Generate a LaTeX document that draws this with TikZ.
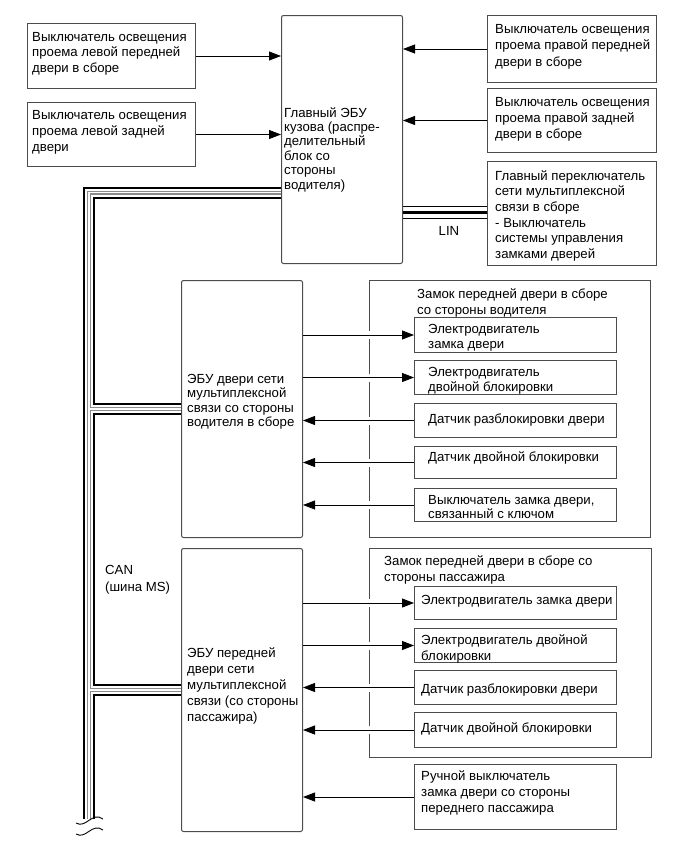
\documentclass[tikz,border=0pt]{standalone}
\usepackage{fontspec}
\setmainfont{Liberation Sans}
\usetikzlibrary{arrows.meta,backgrounds}

\begin{document}
\begin{tikzpicture}[x=1pt, y=-1pt,
    box/.style={draw=black!70, line width=1pt, anchor=north west, inner sep=0},
    ecubox/.style={box, rounded corners=2pt},
    txt/.style={anchor=north west, inner sep=0, align=left, font=\fontsize{13.2}{16}\selectfont},
    arrow/.style={-{Triangle[length=12pt, width=9pt]}, line width=0.8pt},
    gaparrow/.style={arrow, preaction={draw=white, line width=8pt, -, shorten <=12pt, shorten >=14pt}}
]
    \useasboundingbox (0,0) rectangle (687,857);

    % upper part
    \node[box, minimum width=168, minimum height=65] (swLF) at (27,23) {};
    \node[box, minimum width=168, minimum height=64] (swLR) at (27,102) {};
    \node[ecubox, minimum width=121, minimum height=248] (bcm) at (281,15) {};
    \node[box, minimum width=169, minimum height=67] (swRF) at (487,15) {};
    \node[box, minimum width=169, minimum height=64] (swRR) at (487,88) {};
    \node[box, minimum width=169, minimum height=104] (mainsw) at (487,161) {};

    \node[txt, font=\fontsize{13.2}{15.5}\selectfont] at (32,32) {Выключатель освещения\\проема левой передней\\двери в сборе};
    \node[txt] at (32,110) {Выключатель освещения\\проема левой задней\\двери};
    \node[txt, font=\fontsize{13.2}{14.4}\selectfont] at (284,107) {Главный ЭБУ\\кузова (распре-\\делительный\\блок со\\стороны\\водителя)};
    \node[txt, font=\fontsize{13.2}{16.7}\selectfont] at (495,24) {Выключатель освещения\\проема правой передней\\двери в сборе};
    \node[txt] at (495,97) {Выключатель освещения\\проема правой задней\\двери в сборе};
    \node[txt, font=\fontsize{13.2}{15.7}\selectfont] at (495,170) {Главный переключатель\\сети мультиплексной\\связи в сборе\\- Выключатель\\системы управления\\замками дверей};

    \draw[arrow] (swLF.east) -- (bcm.west |- swLF.east);
    \draw[arrow] (swLR.east) -- (bcm.west |- swLR.east);
    \draw[arrow] (swRF.west) -- (bcm.east |- swRF.west);
    \draw[arrow] (swRR.west) -- (bcm.east |- swRR.west);

    % driver door
    \node[ecubox, minimum width=121, minimum height=257] (drvecu) at (181,280) {};
    \node[box, minimum width=281, minimum height=257] (drvlock) at (369,280) {};
    \node[box, minimum width=202, minimum height=35] (dl1) at (414,317) {};
    \node[box, minimum width=202, minimum height=34] (dl2) at (414,360) {};
    \node[box, minimum width=202, minimum height=34] (dl3) at (414,403) {};
    \node[box, minimum width=202, minimum height=32] (dl4) at (414,446) {};
    \node[box, minimum width=202, minimum height=33] (dl5) at (414,488) {};

    \node[txt, font=\fontsize{13.2}{14.3}\selectfont] at (187,374) {ЭБУ двери сети\\мультиплексной\\связи со стороны\\водителя в сборе};
    \node[txt] at (417,288) {Замок передней двери в сборе\\со стороны водителя};
    \node[txt, font=\fontsize{13.2}{15}\selectfont] at (428,324) {Электродвигатель\\замка двери};
    \node[txt, font=\fontsize{13.2}{15}\selectfont] at (428,367) {Электродвигатель\\двойной блокировки};
    \node[txt] at (428,414) {Датчик разблокировки двери};
    \node[txt] at (428,451) {Датчик двойной блокировки};
    \node[txt, font=\fontsize{13.2}{14}\selectfont] at (428,495) {Выключатель замка двери,\\связанный с ключом};

    \draw[gaparrow] (drvecu.east |- dl1) -- (dl1.west);
    \draw[gaparrow] (drvecu.east |- dl2) -- (dl2.west);
    \draw[gaparrow] (dl3.west) -- (drvecu.east |- dl3);
    \draw[gaparrow] (dl4.west) -- (drvecu.east |- dl4);
    \draw[gaparrow] (dl5.west) -- (drvecu.east |- dl5);

    % passenger door
    \node[ecubox, minimum width=121, minimum height=283] (psecu) at (181,548) {};
    \node[box, minimum width=282, minimum height=209] (pslock) at (369,548) {};
    \node[box, minimum width=202, minimum height=33] (pl1) at (414,586) {};
    \node[box, minimum width=202, minimum height=34] (pl2) at (414,628) {};
    \node[box, minimum width=202, minimum height=34] (pl3) at (414,670) {};
    \node[box, minimum width=202, minimum height=35] (pl4) at (414,712) {};
    \node[box, minimum width=202, minimum height=65] (psman) at (414,764) {};

    \node[txt, font=\fontsize{13.2}{16.2}\selectfont] at (187,647) {ЭБУ передней\\двери сети\\мультиплексной\\связи (со стороны\\пассажира)};
    \node[txt] at (384,555) {Замок передней двери в сборе со\\стороны пассажира};
    \node[txt] at (421,595) {Электродвигатель замка двери};
    \node[txt] at (421,634) {Электродвигатель двойной\\блокировки};
    \node[txt] at (421,684) {Датчик разблокировки двери};
    \node[txt] at (421,722) {Датчик двойной блокировки};
    \node[txt] at (421,770) {Ручной выключатель\\замка двери со стороны\\переднего пассажира};

    \draw[gaparrow] (psecu.east |- pl1) -- (pl1.west);
    \draw[gaparrow] (psecu.east |- pl2) -- (pl2.west);
    \draw[gaparrow] (pl3.west) -- (psecu.east |- pl3);
    \draw[gaparrow] (pl4.west) -- (psecu.east |- pl4);
    \draw[arrow] (psman.west) -- (psecu.east |- psman);

    % buses
    \coordinate (canTop) at (89,192.5);
    \coordinate (canEnd) at (89,819);
    \coordinate (lin) at (444,212.5);
    \node[txt, font=\fontsize{13.2}{17}\selectfont] (canlbl) at (105,565) {CAN\\(шина MS)};
    \node[font=\fontsize{13.2}{14}\selectfont, inner sep=0] (linlbl) at (449,231) {LIN};

    \begin{scope}[on background layer]
        \foreach \w/\c in {12/black, 8/white, 4/black!45, 1.5/white} {
            \draw[line width=\w pt, \c] (bcm.west |- canTop) -- (canTop) -- (canEnd);
            \draw[line width=\w pt, \c] (drvecu.west) -- (drvecu.west -| canTop);
            \draw[line width=\w pt, \c] (psecu.west) -- (psecu.west -| canTop);
        }
        \foreach \w/\c in {12.5/black, 10.5/white, 3/black}
            \draw[line width=\w pt, \c] (bcm.east |- lin) -- (mainsw.west |- lin);
    \end{scope}
    \draw[line width=0.9pt] (76,823) .. controls (86,829) and (92,811) .. (103,819);
    \draw[line width=0.9pt] (76,834) .. controls (86,840) and (92,822) .. (103,830);
\end{tikzpicture}
\end{document}
